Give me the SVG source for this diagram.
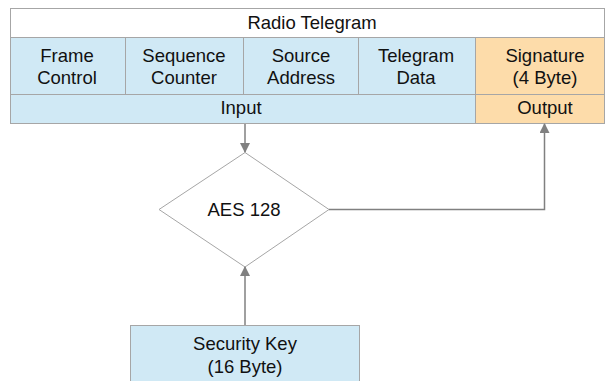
<svg xmlns="http://www.w3.org/2000/svg" width="606" height="381" viewBox="0 0 606 381">
<defs>
<style>
.b{fill:#d0e9f5;stroke:#a6a6a6;stroke-width:1}
.o{fill:#fddcaa;stroke:#a6a6a6;stroke-width:1}
.w{fill:#ffffff;stroke:#a6a6a6;stroke-width:1}
text{font-family:"Liberation Sans",Arial,sans-serif;font-size:18.5px;fill:#111111;text-anchor:middle}
.c{fill:none;stroke:#808080;stroke-width:1.5}
</style>
<marker id="ah" markerWidth="10" markerHeight="10" refX="9" refY="5" orient="auto" markerUnits="userSpaceOnUse">
<path d="M0,0 L10,5 L0,10 Z" fill="#808080"/>
</marker>
</defs>
<rect width="606" height="381" fill="#ffffff"/>
<g id="telegram">
<rect class="w" x="10.5" y="8.5" width="594" height="29"/>
<text x="312" y="29">Radio Telegram</text>
</g>
<g id="frame-control">
<rect class="b" x="10.5" y="37.5" width="115" height="57"/>
<text x="67" y="62">Frame</text><text x="67" y="84">Control</text>
</g>
<g id="sequence-counter">
<rect class="b" x="125.5" y="37.5" width="118" height="57"/>
<text x="184" y="62">Sequence</text><text x="184" y="84">Counter</text>
</g>
<g id="source-address">
<rect class="b" x="243.5" y="37.5" width="115" height="57"/>
<text x="301" y="62">Source</text><text x="301" y="84">Address</text>
</g>
<g id="telegram-data">
<rect class="b" x="358.5" y="37.5" width="117" height="57"/>
<text x="416" y="62">Telegram</text><text x="416" y="84">Data</text>
</g>
<g id="signature">
<rect class="o" x="475.5" y="37.5" width="129" height="57"/>
<text x="545" y="62">Signature</text><text x="545" y="84">(4 Byte)</text>
</g>
<g id="input">
<rect class="b" x="10.5" y="94.5" width="465" height="29"/>
<text x="241" y="114">Input</text>
</g>
<g id="output">
<rect class="o" x="475.5" y="94.5" width="129" height="29"/>
<text x="545" y="114">Output</text>
</g>
<g id="aes">
<polygon points="245,152.5 329,209.5 245,267 159,209.5" fill="#ffffff" stroke="#a6a6a6" stroke-width="1"/>
<text x="244" y="216">AES 128</text>
</g>
<g id="security-key">
<rect class="b" x="130.5" y="325.5" width="229" height="60"/>
<text x="245" y="350">Security Key</text><text x="245" y="373">(16 Byte)</text>
</g>
<g id="connectors">
<path class="c" d="M245,124 V152" marker-end="url(#ah)"/>
<path class="c" d="M329,209.5 H544.5 V124" marker-end="url(#ah)"/>
<path class="c" d="M245,325 V267" marker-end="url(#ah)"/>
</g>
</svg>
